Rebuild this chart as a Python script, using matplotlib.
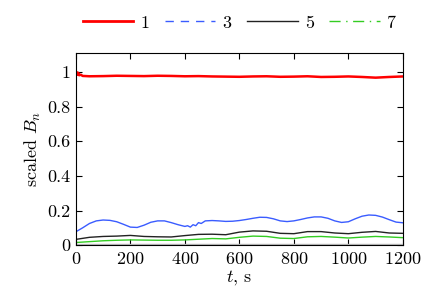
import numpy as np
import matplotlib
matplotlib.use('Agg')
import matplotlib.pyplot as plt
from matplotlib.lines import Line2D

plt.rcParams['font.family'] = 'serif'
plt.rcParams['font.serif'] = ['cmr10', 'DejaVu Serif']
plt.rcParams['mathtext.fontset'] = 'cm'
plt.rcParams['axes.formatter.use_mathtext'] = True

# harmonic 1
t_red = [0, 3, 6, 9, 12, 18, 25, 50, 100, 150, 200, 250, 300, 350, 400, 450, 500, 550, 600,
         650, 700, 750, 800, 850, 900, 950, 1000, 1050, 1100, 1150, 1200]
b_red = [0.99, 1.0, 0.985, 0.996, 0.982, 0.985, 0.978, 0.976, 0.977, 0.979, 0.978, 0.977, 0.979,
         0.978, 0.976, 0.977, 0.975, 0.974, 0.973, 0.975, 0.976, 0.973, 0.974, 0.976, 0.972,
         0.973, 0.975, 0.972, 0.968, 0.972, 0.975]

# harmonic 3
t_blue = [0, 25, 50, 75, 100, 125, 150, 175, 200, 225, 250, 275, 300, 325, 350, 375, 400, 410,
          420, 430, 440, 450, 460, 475, 500, 525, 550, 575, 600, 625, 650, 675, 700, 725, 750,
          775, 800, 825, 850, 875, 900, 925, 950, 975, 1000, 1025, 1050, 1075, 1100, 1125,
          1150, 1175, 1200]
b_blue = [0.077, 0.10, 0.125, 0.14, 0.145, 0.143, 0.135, 0.12, 0.104, 0.102, 0.115, 0.132, 0.14,
          0.14, 0.13, 0.118, 0.108, 0.112, 0.104, 0.118, 0.112, 0.13, 0.125, 0.14, 0.142, 0.14,
          0.137, 0.138, 0.142, 0.148, 0.155, 0.161, 0.16, 0.152, 0.14, 0.136, 0.14, 0.148,
          0.157, 0.163, 0.163, 0.155, 0.14, 0.131, 0.135, 0.152, 0.167, 0.174, 0.172, 0.162,
          0.147, 0.133, 0.129]

# harmonics 5 and 7
t_50 = [0, 50, 100, 150, 200, 250, 300, 350, 400, 450, 500, 550, 600, 650, 700, 750, 800,
        850, 900, 950, 1000, 1050, 1100, 1150, 1200]
b_black = [0.033, 0.045, 0.05, 0.052, 0.056, 0.05, 0.048, 0.047, 0.055, 0.062, 0.063, 0.06,
           0.075, 0.082, 0.08, 0.068, 0.066, 0.078, 0.078, 0.07, 0.066, 0.074, 0.079, 0.07, 0.068]
b_green = [0.015, 0.02, 0.025, 0.028, 0.03, 0.029, 0.028, 0.028, 0.03, 0.034, 0.038, 0.036,
           0.045, 0.052, 0.05, 0.04, 0.038, 0.048, 0.05, 0.046, 0.041, 0.046, 0.05, 0.047, 0.043]
b_grey = [0.008] * len(t_50)

c_blue = '#3a5cff'
c_green = '#33cc22'

fig = plt.figure(figsize=(4.36, 3.0), dpi=100)
ax = fig.add_axes([0.174, 0.183, 0.75, 0.64])

ax.plot(t_50, b_grey, color='#bbbbbb', lw=1.0)
ax.plot(t_50, b_green, color=c_green, lw=1.0)
ax.plot(t_50, b_black, color='#222222', lw=1.0)
ax.plot(t_blue, b_blue, color=c_blue, lw=1.0)
ax.plot(t_red, b_red, color='red', lw=1.8)

ax.set_xlim(0, 1200)
ax.set_ylim(0, 1.11)
ax.set_xticks([0, 200, 400, 600, 800, 1000, 1200])
ax.set_yticks([0, 0.2, 0.4, 0.6, 0.8, 1])
ax.set_yticklabels(['0', '0.2', '0.4', '0.6', '0.8', '1'])
ax.tick_params(direction='in', top=True, right=True, length=4, labelsize=13, pad=4)
ax.set_xlabel('$t$, s', fontsize=13, labelpad=1)
ax.set_ylabel('scaled $B_n$', fontsize=13, labelpad=3)

handles = [Line2D([], [], color='red', lw=2.0),
           Line2D([], [], color=c_blue, lw=1.0, ls=(0, (6, 5))),
           Line2D([], [], color='#222222', lw=1.0),
           Line2D([], [], color=c_green, lw=1.0, ls=(0, (8, 4, 1, 4)))]
ax.legend(handles, ['1', '3', '5', '7'], loc='lower center', bbox_to_anchor=(0.5, 1.08),
          ncol=4, frameon=False, fontsize=13, handlelength=2.8, columnspacing=0.85,
          handletextpad=0.4, borderaxespad=0.0)

fig.savefig('out.png', dpi=100)
